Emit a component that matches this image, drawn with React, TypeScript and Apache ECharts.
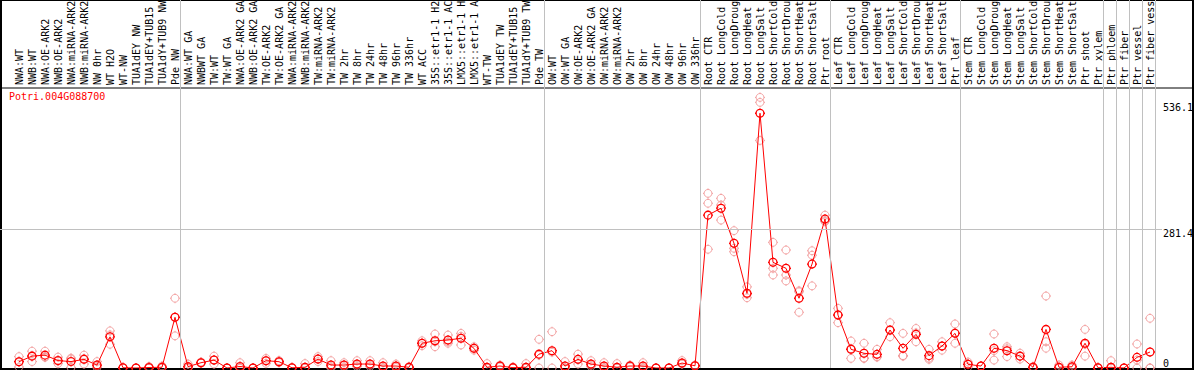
import React, { useEffect, useRef } from "react";
import * as echarts from "echarts";

const TITLE = "Potri.004G088700";

const categories: string[] = [
  "NWA:WT", "NWB:WT", "NWA:OE-ARK2", "NWB:OE-ARK2", "NWA:miRNA-ARK2", "NWB:miRNA-ARK2",
  "NW 0hr", "WT H2O", "WT-NW", "TUA1dEY NW", "TUA1dEY+TUB15", "TUA1dY+TUB9 NW", "Pde NW",
  "NWA:WT GA", "NWBWT GA", "TW:WT", "TW:WT GA", "NWA:OE-ARK2 GA", "NWB:OE-ARK2 GA",
  "TW:OE-ARK2", "TW:OE-ARK2 GA", "NWA:miRNA-ARK2 GA", "NWB:miRNA-ARK2 GA", "TW:miRNA-ARK2",
  "TW:miRNA-ARK2 GA", "TW 2hr", "TW 8hr", "TW 24hr", "TW 48hr", "TW 96hr", "TW 336hr",
  "WT ACC", "35S::etr1-1 H2O", "35S::etr1-1 ACC", "LMX5::etr1-1 H2O", "LMX5::etr1-1 ACC",
  "WT-TW", "TUA1dEY TW", "TUA1dEY+TUB15", "TUA1dY+TUB9 TW", "Pde TW",
  "OW:WT", "OW:WT GA", "OW:OE-ARK2", "OW:OE-ARK2 GA", "OW:miRNA-ARK2", "OW:miRNA-ARK2 GA",
  "OW 2hr", "OW 8hr", "OW 24hr", "OW 48hr", "OW 96hr", "OW 336hr",
  "Root CTR", "Root LongCold", "Root LongDrought", "Root LongHeat", "Root LongSalt",
  "Root ShortCold", "Root ShortDrought", "Root ShortHeat", "Root ShortSalt", "Ptr root",
  "Leaf CTR", "Leaf LongCold", "Leaf LongDrought", "Leaf LongHeat", "Leaf LongSalt",
  "Leaf ShortCold", "Leaf ShortDrought", "Leaf ShortHeat", "Leaf ShortSalt", "Ptr leaf",
  "Stem CTR", "Stem LongCold", "Stem LongDrought", "Stem LongHeat", "Stem LongSalt",
  "Stem ShortCold", "Stem ShortDrought", "Stem ShortHeat", "Stem ShortSalt", "Ptr shoot",
  "Ptr xylem", "Ptr phloem", "Ptr fiber", "Ptr vessel", "Ptr fiber vessel",
];

const means: number[] = [
  12.7, 24, 26, 15, 13, 17.5, 6, 63, 0.5, 0, 1, 1.5, 102.5,
  2.7, 10.7, 16, 0, 3, 0, 14.8, 12.7, 0.5, 1.4, 18, 6, 6, 8, 8, 4, 4, 1.5,
  50, 55, 56.6, 60, 39.7, 1.4, 4, 0.7, 1.4, 28,
  35, 4, 17.5, 8, 4, 1.4, 4, 4, 0, 0, 10, 4.5,
  309, 323, 252, 151, 515, 213.6, 201.5, 141, 210, 301,
  107, 37.8, 29.7, 27.6, 76.8, 39.8, 68, 25, 44.5, 70,
  7.4, 4, 39.8, 35, 24, 1.4, 78, 1.5, 2.5, 50,
  0.5, 1.4, 0, 21.5, 32.3,
];

const replicates: number[][] = [
  [23, 13, 2], [34, 25, 13], [34, 22, 22], [22, 14, 9], [20, 18, 1], [26, 19, 8],
  [13, 4, 1], [75, 67, 48], [1, 0, 0.5], [0, 0, 0], [3, 0, 0], [4, 0, 0.5], [141, 103, 65],
  [8, 0, 0], [12, 10, 10], [24, 16, 8], [0, 0, 0], [10.7, 0, 0], [0, 0, 0],
  [19.5, 15, 9.4], [15, 12, 11], [1, 0, 0], [9, 0, 0], [23, 18, 13],
  [14.8, 3, 0], [10.7, 5, 2], [14.8, 6, 3], [14.8, 6, 3], [10.7, 1, 0], [8, 3, 1], [3, 1, 0],
  [55, 50, 45], [68.7, 53, 43], [66.6, 53, 50], [70, 64, 46.5], [43, 40, 36],
  [9, 0, 0], [6, 4, 2], [2, 0, 0], [9, 0, 0], [58, 26, 0],
  [73.4, 32, 0], [13, 0, 0], [28, 17, 8], [14.8, 6, 3], [10.7, 1, 0], [9, 0, 0],
  [6, 4, 2], [10.7, 1, 0], [0, 0, 0], [0, 0, 0], [15, 9, 8], [6, 4, 4],
  [353, 333, 240], [343, 329.5, 299], [277.6, 242, 235], [164, 149, 142], [547, 537, 460],
  [254, 201.5, 188], [238.5, 188, 176], [156, 154, 112.6], [237, 228, 166], [309, 296, 298],
  [120.6, 108, 91.6], [54.6, 39, 19.5], [50, 20, 19.5], [37.8, 23, 22], [91.6, 76, 63],
  [70, 25, 24], [80, 71, 53], [37.8, 20, 17.5], [53, 44, 36], [89, 71, 50],
  [12, 8, 2], [4, 4, 4], [68.7, 35, 16], [43, 39, 23], [30, 24, 18],
  [3, 1, 0], [145.5, 53, 40], [6, 0, 0], [6, 2, 0], [78, 48, 24],
  [1, 0, 0], [14.8, 0, 0], [0, 0, 0], [48.5, 16, 0], [100.5, 0, 0],
];

const yMax = 566;
const yTickTop: number[] = [281.4, 536.1];
const yTickBottom: number[] = [0];
const gridlineValues: number[] = [281.4];
// category index where each separated group starts (plus end)
const groupBounds: number[] = [0, 13, 41, 53, 63, 73, 84, 85, 86, 87, 88];
const LABEL_CHARS = 14;

const FONT = "DejaVu Sans Mono";
// circle (r 3.9) with four short ticks
const MARK =
  "path://M5,0L5,1.1M5,8.9L5,10M0,5L1.1,5M8.9,5L10,5" +
  "M8.9,5C8.9,7.154 7.154,8.9 5,8.9C2.846,8.9 1.1,7.154 1.1,5" +
  "C1.1,2.846 2.846,1.1 5,1.1C7.154,1.1 8.9,2.846 8.9,5Z";

export default function App() {
  const ref = useRef<HTMLDivElement>(null);
  useEffect(() => {
    document.body.style.margin = "0";
    if (!ref.current) return;
    const chart = echarts.init(ref.current, null, { renderer: "svg" });
    const repData: number[][] = [];
    replicates.forEach((r, i) => r.forEach((v) => repData.push([i, v])));
    const N = categories.length;
    const noGrid = { outerBoundsMode: "none", containLabel: false };
    const hiddenX = (gridIndex: number, min = 0, max = 1) => ({
      type: "value", gridIndex, min, max, show: false,
    });
    const hiddenY = (gridIndex: number, min = 0, max = 1) => ({
      type: "value", gridIndex, min, max, show: false,
    });
    const yLabel = (values: number[], va: string) => ({
      type: "value",
      gridIndex: 3,
      min: 0,
      max: yMax,
      position: "right",
      axisLine: { show: false },
      axisTick: { show: false },
      splitLine: { show: false },
      axisLabel: {
        customValues: values,
        verticalAlign: va,
        margin: 1,
        fontSize: 10,
        fontFamily: FONT,
        color: "#000",
      },
    });
    chart.setOption({
      animation: false,
      backgroundColor: "#ffffff",
      title: {
        text: TITLE,
        left: 9,
        top: 91,
        padding: 0,
        textStyle: { color: "#ff0000", fontSize: 10, fontFamily: FONT, fontWeight: "normal" },
      },
      grid: [
        { left: 12.5, top: 88, width: 13 * N, height: 280, ...noGrid },
        { left: 1, top: 0, width: 1192, height: 369, show: true, borderColor: "#000", borderWidth: 2, ...noGrid },
        { left: 1, top: 88, width: 1192, height: 281, show: true, borderColor: "#000", borderWidth: 1, ...noGrid },
        { left: 0, top: 88, width: 1162, height: 280, ...noGrid },
        { left: 12.5, top: 0, width: 13 * N, height: 368, ...noGrid },
      ],
      xAxis: [
        {
          type: "category",
          gridIndex: 0,
          position: "top",
          data: categories,
          boundaryGap: true,
          axisLine: { show: false },
          axisTick: { show: false },
          splitLine: { show: false },
          axisLabel: {
            interval: 0,
            rotate: 90,
            margin: 3,
            fontSize: 10,
            fontFamily: FONT,
            color: "#000",
            formatter: (s: string) => s.slice(0, LABEL_CHARS).trim(),
          },
        },
        hiddenX(1),
        hiddenX(2),
        hiddenX(3),
        hiddenX(4, -0.5, N - 0.5),
      ],
      yAxis: [
        { type: "value", gridIndex: 0, min: 0, max: yMax, show: false },
        hiddenY(1),
        hiddenY(2),
        yLabel(yTickTop, "top"),
        yLabel(yTickBottom, "bottom"),
        hiddenY(4),
      ],
      series: [
        {
          type: "line",
          xAxisIndex: 3,
          yAxisIndex: 3,
          data: [],
          silent: true,
          markLine: {
            silent: true,
            symbol: ["none", "none"],
            label: { show: false },
            lineStyle: { color: "#c0c0c0", type: "solid", width: 1 },
            data: gridlineValues.map((v) => ({ yAxis: v })),
          },
        },
        {
          type: "line",
          xAxisIndex: 4,
          yAxisIndex: 5,
          data: [],
          silent: true,
          markLine: {
            silent: true,
            symbol: ["none", "none"],
            label: { show: false },
            lineStyle: { color: "#c0c0c0", type: "solid", width: 1 },
            data: groupBounds.map((k) => ({ xAxis: k - 0.62 })),
          },
        },
        {
          type: "scatter",
          xAxisIndex: 0,
          yAxisIndex: 0,
          data: repData,
          symbol: MARK,
          symbolSize: 10,
          z: 3,
          itemStyle: { color: "transparent", borderColor: "#f09090", borderWidth: 1 },
        },
        {
          type: "line",
          xAxisIndex: 0,
          yAxisIndex: 0,
          data: means,
          symbol: MARK,
          symbolSize: 10,
          showSymbol: true,
          showAllSymbol: true,
          z: 4,
          lineStyle: { color: "#ff0000", width: 1 },
          itemStyle: { color: "transparent", borderColor: "#ff0000", borderWidth: 1.3 },
        },
      ],
    });
    return () => chart.dispose();
  }, []);
  return <div ref={ref} style={{ width: 1194, height: 370 }} />;
}
